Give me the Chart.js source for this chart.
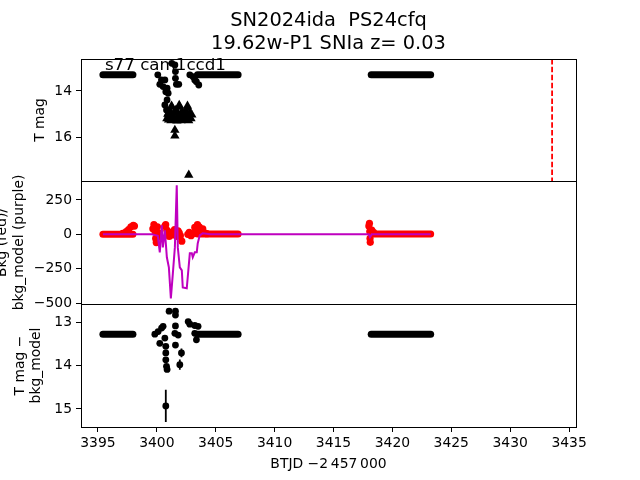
<!DOCTYPE html>
<html>
<head>
<meta charset="utf-8">
<script src="https://cdn.jsdelivr.net/npm/chart.js@4/dist/chart.umd.min.js"></script>
<style>
  html, body { margin: 0; padding: 0; background: #fff; }
  #wrap { position: relative; width: 640px; height: 480px; }
  #wrap canvas { position: absolute; left: 0; top: 0; }
</style>
</head>
<body>
<div id="wrap">
  <canvas id="lcTop" width="640" height="480"></canvas>
  <canvas id="lcBkg" width="640" height="480"></canvas>
  <canvas id="lcDiff" width="640" height="480"></canvas>
</div>
<script>
// Textes
const titleLines = ['SN2024ida  PS24cfq', '19.62w-P1 SNIa z= 0.03'];
const fieldLabel = 's77 cam1ccd1';
const fieldLabelPos = [3395.59, 13.09];

// Axes
const xRange = [3393.56, 3435.59];
const xTicks = [3395, 3400, 3405, 3410, 3415, 3420, 3425, 3430, 3435];
const magRange = [12.61, 17.91];
const magTicks = [14, 16];
const bkgRange = [-507, 388];
const bkgTicks = [-500, -250, 0, 250];
const diffRange = [12.586, 15.414];
const diffTicks = [13, 14, 15];

// Segments plats (début / fin de chaque bloc d'observations)
const chunkStart = [3395.42, 3403.45, 3418.20];
const chunkEnd = [3397.97, 3406.90, 3423.25];
const chunkMag = [13.30, 13.30, 13.30];
const chunkBkg = [0, 3, 2];
const chunkDiff = [13.28, 13.28, 13.28];

// Panneau du haut : détections
const magX = [3400.08, 3400.39, 3400.25, 3400.68, 3400.53, 3400.87, 3400.76, 3400.96, 3400.87, 3400.68, 3400.82, 3400.93,
              3401.27, 3401.53, 3401.58, 3401.58, 3401.66, 3401.86,
              3402.80, 3403.08, 3403.36, 3403.56, 3403.22];
const magY = [13.30, 13.52, 13.71, 13.52, 13.81, 13.88, 14.03, 14.10, 14.39, 14.61, 14.83, 15.09,
              12.80, 12.87, 13.16, 13.45, 13.71, 13.71,
              13.30, 13.38, 13.60, 13.74, 13.52];
// Limites supérieures (triangles)
const limX = [3400.93, 3401.10, 3401.19, 3401.27, 3401.44, 3401.61, 3401.78, 3401.78, 3401.95, 3402.12,
              3402.29, 3402.37, 3402.46, 3402.63, 3402.80, 3402.97, 3401.53, 3401.53, 3402.71,
              3400.85, 3401.00, 3401.20, 3401.35, 3401.50, 3401.70, 3401.90, 3402.05, 3402.20, 3402.40,
              3402.55, 3402.70, 3402.90, 3402.60, 3401.90, 3401.25];
const limY = [15.00, 14.87, 15.09, 14.70, 14.96, 14.83, 14.96, 15.09, 14.70, 14.91,
              15.00, 15.09, 14.87, 14.74, 14.96, 15.04, 15.70, 15.95, 17.65,
              15.20, 15.25, 15.28, 15.10, 15.25, 15.30, 15.20, 15.28, 15.15, 15.25,
              15.10, 15.28, 15.20, 14.65, 14.62, 14.65];
const peakDate = 3433.56;

// Panneau du milieu : fond (rouge) et modèle (violet)
const bkgX = [3397.10, 3397.40, 3397.60, 3397.80, 3398.00, 3398.10,
              3399.66, 3399.75, 3399.85, 3399.90, 3399.95, 3400.05, 3400.15, 3400.25,
              3400.68, 3400.75, 3400.85, 3400.95, 3401.05, 3401.15, 3401.27,
              3401.40, 3401.50, 3401.60, 3401.70, 3401.80, 3401.90, 3402.00, 3402.12,
              3402.63, 3402.75, 3402.90, 3403.05,
              3403.22, 3403.35, 3403.45, 3403.60, 3403.75, 3403.90, 3404.05, 3404.24,
              3418.00, 3418.05, 3418.08, 3418.10, 3418.12, 3418.25, 3418.40];
const bkgY = [7, 20, 35, 55, 65, 60,
              40, 70, 20, -30, -60, 55, 10, -20,
              60, 70, 30, 0, -15, 15, -5,
              20, 35, 0, -15, 25, 10, -10, -50,
              0, 15, -10, 5,
              50, 30, 70, 55, 20, 40, 10, 5,
              60, 80, 20, -30, -58, 30, 15];
const modelX = [3395.42, 3399.58, 3400.08, 3400.25, 3400.42, 3400.51, 3400.68, 3400.85, 3401.02, 3401.19,
                3401.36, 3401.53, 3401.69, 3401.78, 3401.95, 3402.12, 3402.20, 3402.54, 3402.80, 3402.97,
                3403.05, 3403.22, 3403.39, 3403.47, 3403.64, 3403.90, 3404.50, 3418.00, 3418.10, 3418.25, 3423.25];
const modelY = [0, 0, -10, -131, 66, -95, 29, -167, -240, -466,
                -284, -95, 357, -95, -240, -262, -386, -393, -138, -138,
                -167, -131, -131, -66, -7, 7, 0, 0, -20, 0, 0];

// Panneau du bas : T mag - bkg_model
const diffX = [3399.83, 3400.11, 3400.40, 3400.53, 3400.25, 3400.68, 3400.76, 3400.76, 3400.76, 3400.82, 3400.87,
               3401.04, 3401.58, 3401.58, 3401.58, 3401.53, 3401.81, 3401.58, 3402.09, 3401.95,
               3402.66, 3402.80, 3403.22, 3403.50, 3403.22, 3403.36, 3400.76];
const diffY = [13.28, 13.22, 13.14, 13.10, 13.49, 13.37, 13.56, 13.71, 13.87, 14.02, 14.09,
               12.75, 12.75, 12.84, 13.09, 13.26, 13.30, 13.53, 13.71, 13.98,
               12.99, 13.05, 13.08, 13.10, 13.26, 13.41, 14.93];
const errX = [3402.09, 3401.95, 3400.76, 3400.87];
const errY = [13.71, 13.98, 14.93, 14.09];
const errSize = [0.10, 0.12, 0.37, 0.06];

const font = { family: 'DejaVu Sans', size: 13.9 };
const zip = (xs, ys) => xs.map((x, i) => ({ x: x, y: ys[i] }));

// cadre noir autour de la zone de tracé
const framePlugin = {
    id: 'frame',
    afterDatasetsDraw(chart) {
        const a = chart.chartArea;
        const ctx = chart.ctx;
        ctx.save();
        ctx.strokeStyle = '#000';
        ctx.lineWidth = 1;
        ctx.strokeRect(Math.round(a.left) + 0.5, Math.round(a.top) + 0.5,
                       Math.round(a.right - a.left), Math.round(a.bottom - a.top));
        ctx.restore();
    }
};

// texte "s77 cam1ccd1" placé en coordonnées de données
const labelPlugin = {
    id: 'fieldLabel',
    afterDatasetsDraw(chart) {
        const ctx = chart.ctx;
        ctx.save();
        ctx.fillStyle = '#000';
        ctx.font = '16.7px "DejaVu Sans"';
        ctx.textBaseline = 'alphabetic';
        ctx.fillText(fieldLabel, chart.scales.x.getPixelForValue(fieldLabelPos[0]),
                     chart.scales.y.getPixelForValue(fieldLabelPos[1]));
        ctx.restore();
    }
};

function xAxis(show) {
    return {
        type: 'linear', display: show, min: xRange[0], max: xRange[1],
        afterBuildTicks: s => { s.ticks = xTicks.map(v => ({ value: v })); },
        afterFit: s => { if (show) s.height = 53; },
        grid: { drawOnChartArea: false, color: '#000', tickLength: 5, tickWidth: 1 },
        border: { display: false },
        ticks: { color: '#000', font: font, padding: 3, maxRotation: 0, autoSkip: false, callback: v => String(v) },
        title: { display: true, text: 'BTJD \u22122\u2009457\u2009000', color: '#000', font: font, padding: { top: 0, bottom: 7.7 } }
    };
}

function yAxis(range, ticks, title, width, titlePad, reverse) {
    return {
        type: 'linear', reverse: reverse, min: range[0], max: range[1],
        afterBuildTicks: s => { s.ticks = ticks.map(v => ({ value: v })); },
        afterFit: s => { s.width = width; },
        grid: { drawOnChartArea: false, color: '#000', tickLength: 5, tickWidth: 1 },
        border: { display: false },
        ticks: { color: '#000', font: font, padding: 4, callback: v => String(v).replace('-', '\u2212') },
        title: { display: true, text: title, color: '#000', font: font, padding: { top: titlePad, bottom: 0 } }
    };
}

function baseOptions(padding, scales, extra) {
    return {
        responsive: false,
        animation: false,
        events: [],
        layout: { padding: padding },
        plugins: Object.assign({ legend: { display: false }, tooltip: { enabled: false } }, extra || {}),
        scales: scales
    };
}

function band(xs0, xs1, ys, color) {
    return xs0.map((s, i) => ({
        data: [{ x: s, y: ys[i] }, { x: xs1[i], y: ys[i] }],
        showLine: true, borderColor: color, borderWidth: 7, borderCapStyle: 'round',
        pointRadius: 0
    }));
}

document.addEventListener('DOMContentLoaded', function () {
    // 1️⃣ Courbe de lumière
    new Chart(document.getElementById('lcTop'), {
        type: 'scatter',
        data: {
            datasets: [
                { data: [{ x: peakDate, y: magRange[0] }, { x: peakDate, y: magRange[1] }], showLine: true,
                  borderColor: '#ff0000', borderWidth: 1.8, borderDash: [5.5, 2.4], pointRadius: 0 },
                { data: zip(magX, magY), backgroundColor: '#000', borderWidth: 0, pointRadius: 3.4 },
                { data: zip(limX, limY), pointStyle: 'triangle', backgroundColor: '#000', borderWidth: 0, pointRadius: 5.4 },
                ...band(chunkStart, chunkEnd, chunkMag, '#000')
            ]
        },
        options: baseOptions({ left: 31.7, right: 64, top: 0, bottom: 299 }, {
            x: xAxis(false),
            y: yAxis(magRange, magTicks, 'T mag', 49.3, 0, true)
        }, {
            title: { display: true, text: titleLines, color: '#000', fullSize: false,
                     font: { family: 'DejaVu Sans', size: 19.4, weight: 'normal', lineHeight: 1.2 },
                     padding: { top: 9.4, bottom: 3 } }
        }),
        plugins: [framePlugin, labelPlugin]
    });

    // 2️⃣ Fond et modèle de fond
    new Chart(document.getElementById('lcBkg'), {
        type: 'scatter',
        data: {
            datasets: [
                { data: zip(modelX, modelY), showLine: true, borderColor: '#bf00bf', borderWidth: 2, pointRadius: 0 },
                { data: zip(bkgX, bkgY), backgroundColor: '#ff0000', borderWidth: 0, pointRadius: 3.6 },
                ...band(chunkStart, chunkEnd, chunkBkg, '#ff0000')
            ]
        },
        options: baseOptions({ left: 0, right: 64, top: 181, bottom: 176 }, {
            x: xAxis(false),
            y: yAxis(bkgRange, bkgTicks, ['Bkg (red)/', 'bkg_model (purple)'], 81, -6, false)
        }),
        plugins: [framePlugin]
    });

    // 3️⃣ Magnitude corrigée du fond
    new Chart(document.getElementById('lcDiff'), {
        type: 'scatter',
        data: {
            datasets: [
                { data: zip(diffX, diffY), backgroundColor: '#000', borderWidth: 0, pointRadius: 3.4 },
                ...errX.map((x, i) => ({
                    data: [{ x: x, y: errY[i] - errSize[i] }, { x: x, y: errY[i] + errSize[i] }],
                    showLine: true, borderColor: '#000', borderWidth: 1.8, pointRadius: 0
                })),
                ...band(chunkStart, chunkEnd, chunkDiff, '#000')
            ]
        },
        options: baseOptions({ left: 11.7, right: 64, top: 304, bottom: 0 }, {
            x: xAxis(true),
            y: yAxis(diffRange, diffTicks, ['T mag \u2212', 'bkg_model'], 69.3, 0, true)
        }),
        plugins: [framePlugin]
    });
});
</script>
</body>
</html>
